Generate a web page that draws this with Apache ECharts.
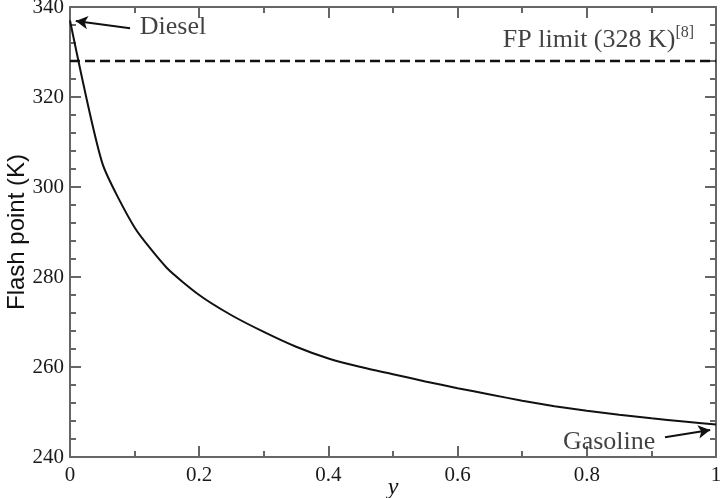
<!DOCTYPE html>
<html>
<head>
<meta charset="utf-8">
<script src="https://cdn.jsdelivr.net/npm/echarts@6/dist/echarts.min.js"></script>
<style>html,body{margin:0;padding:0;background:#fff;}#c{width:720px;height:498px;}</style>
</head>
<body>
<div id="c"></div>
<script>
const xValues = [0, 0.05, 0.1, 0.15, 0.2, 0.25, 0.3, 0.35, 0.4, 0.45, 0.5, 0.55, 0.6, 0.65, 0.7, 0.75, 0.8, 0.85, 0.9, 0.95, 1.0];
const flashPoint = [337, 305.3, 291, 282, 276, 271.5, 267.8, 264.5, 261.9, 260, 258.4, 256.8, 255.3, 253.9, 252.5, 251.3, 250.3, 249.4, 248.6, 247.9, 247.2];
const fpLimit = 328;
const xTicks = [0, 0.2, 0.4, 0.6, 0.8, 1];
const yTicks = [240, 260, 280, 300, 320, 340];
// annotations: [x, y] in data units
const dieselText = [0.108, 335.6];
const dieselArrow = [[0.093, 335.3], [0.009, 336.9]];
const gasolineText = [0.763, 243.3];
const gasolineArrow = [[0.921, 244.4], [0.991, 246.0]];
const fpText = [0.67, 332.7];

const chart = echarts.init(document.getElementById('c'));
const serif = '"Liberation Serif", "Times New Roman", serif';
const axisColor = '#666';
function fmtX(v) { return xTicks.indexOf(v) >= 0 ? (v === 0 ? '0' : (v === 1 ? '1' : v.toFixed(1))) : ''; }
function majorAxis(min, max, interval, position) {
  return {
    type: 'value', min: min, max: max, interval: interval, position: position,
    axisLine: { show: true, onZero: false, lineStyle: { color: axisColor, width: 2 } },
    axisTick: { show: true, inside: true, length: 11, lineStyle: { color: axisColor, width: 2 } },
    axisLabel: { show: false },
    splitLine: { show: false }
  };
}
function minorAxis(min, max, interval, position) {
  return {
    type: 'value', min: min, max: max, interval: interval, position: position,
    axisLine: { show: false, onZero: false },
    axisTick: { show: true, inside: true, length: 6, lineStyle: { color: axisColor, width: 2 } },
    axisLabel: { show: false },
    splitLine: { show: false }
  };
}
const xBottom = majorAxis(0, 1, 0.2, 'bottom');
xBottom.name = 'y';
xBottom.nameLocation = 'middle';
xBottom.nameGap = 19;
xBottom.nameMoveOverlap = false;
xBottom.nameTextStyle = { fontFamily: serif, fontStyle: 'italic', fontSize: 24, color: '#111', verticalAlign: 'top' };
xBottom.axisLabel = { show: true, margin: 8, fontFamily: serif, fontSize: 21, color: '#1a1a1a', formatter: fmtX };
const yLeft = majorAxis(240, 340, 20, 'left');
yLeft.name = 'Flash point (K)';
yLeft.nameLocation = 'middle';
yLeft.nameGap = 41;
yLeft.nameRotate = 90;
yLeft.nameMoveOverlap = false;
yLeft.nameTextStyle = { fontFamily: '"Liberation Sans", Arial, sans-serif', fontSize: 24, color: '#111' };
yLeft.axisLabel = { show: true, margin: 6, fontFamily: serif, fontSize: 21, color: '#1a1a1a',
  formatter: function (v) { return yTicks.indexOf(v) >= 0 ? String(v) : ''; } };

const option = {
  animation: false,
  backgroundColor: '#fff',
  grid: { left: 70, right: 4, top: 7, bottom: 41, containLabel: false, outerBoundsMode: 'none' },
  xAxis: [
    xBottom,
    majorAxis(0, 1, 0.2, 'top'),
    minorAxis(0, 1, 0.1, 'bottom'),
    minorAxis(0, 1, 0.1, 'top')
  ],
  yAxis: [
    yLeft,
    majorAxis(240, 340, 20, 'right'),
    minorAxis(240, 340, 4, 'left'),
    minorAxis(240, 340, 4, 'right')
  ],
  series: [
    {
      type: 'line', xAxisIndex: 0, yAxisIndex: 0,
      data: xValues.map((x, i) => [x, flashPoint[i]]),
      showSymbol: false, symbol: 'none', smooth: 0.2,
      lineStyle: { color: '#111', width: 2 },
      markLine: {
        silent: true, symbol: ['none', 'arrow'], symbolSize: [10, 12],
        lineStyle: { color: '#111', width: 2, type: 'solid' },
        label: { show: false },
        data: [
          [{ coord: dieselArrow[0] }, { coord: dieselArrow[1] }],
          [{ coord: gasolineArrow[0] }, { coord: gasolineArrow[1] }]
        ]
      }
    },
    {
      type: 'line', xAxisIndex: 0, yAxisIndex: 0,
      data: [[0, fpLimit], [1, fpLimit]],
      showSymbol: false, symbol: 'none',
      lineStyle: { color: '#111', width: 2.5, type: [10, 5] }
    },
    {
      type: 'scatter', xAxisIndex: 0, yAxisIndex: 0,
      symbolSize: 0, silent: true,
      data: [
        { value: dieselText, label: { formatter: 'Diesel' } },
        { value: gasolineText, label: { formatter: 'Gasoline' } },
        { value: fpText, label: { formatter: 'FP limit (328 K){s|[8]}' } }
      ],
      label: {
        show: true, position: 'right', distance: 0, align: 'left', verticalAlign: 'middle',
        fontFamily: serif, fontSize: 26, color: '#111',
        rich: { s: { fontFamily: serif, fontSize: 16, color: '#111', verticalAlign: 'top', padding: [0, 0, 14, 0] } }
      }
    }
  ]
};
chart.setOption(option);
</script>
</body>
</html>
